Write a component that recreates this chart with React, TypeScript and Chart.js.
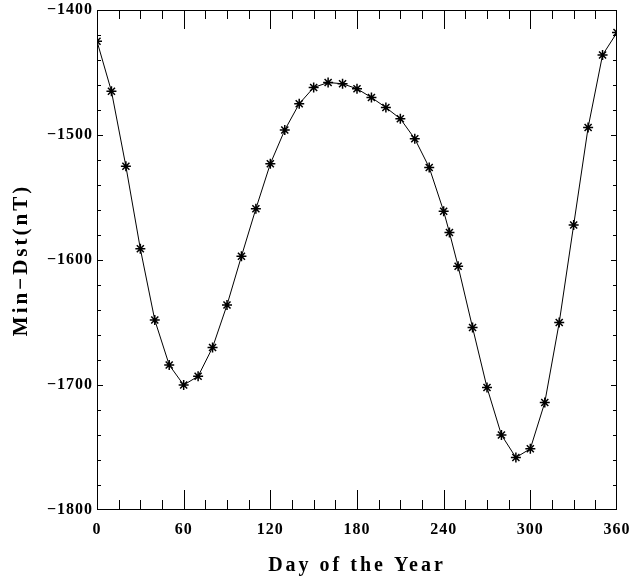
import React, { useEffect, useRef } from "react";
import { Chart, registerables } from "chart.js";

Chart.register(...registerables);

// ---- data ----
const days = [
  0, 10, 20, 30, 40, 50, 60, 70, 80, 90, 100, 110, 120, 130, 140, 150, 160, 170,
  180, 190, 200, 210, 220, 230, 240, 244, 250, 260, 270, 280, 290, 300, 310, 320,
  330, 340, 350, 360,
];
const minDst = [
  -1425, -1465, -1525, -1591, -1648, -1684, -1700, -1693, -1670, -1636, -1597,
  -1559, -1523, -1496, -1475, -1462, -1458, -1459, -1463, -1470, -1478, -1487,
  -1503, -1526, -1561, -1578, -1605, -1654, -1702, -1740, -1758, -1751, -1714,
  -1650, -1572, -1494, -1436, -1418,
];
const xMin = 0;
const xMax = 360;
const xMajorStep = 60;
const xMinorStep = 15;
const yMin = -1800;
const yMax = -1400;
const yMajorStep = 100;
const yMinorStep = 20;
const xTitle = "Day of the Year";
const yTitle = "Min\u2212Dst(nT)";

const W = 634;
const H = 576;

const fmt = (v: number) => (v < 0 ? "\u2212" + Math.abs(v) : String(v));

const framePlugin = {
  id: "idlFrame",
  beforeDraw(chart: any) {
    chart.ctx.letterSpacing = "3px";
  },
  afterDatasetsDraw(chart: any) {
    chart.ctx.letterSpacing = "1px";
  },
  afterDraw(chart: any) {
    const ctx: CanvasRenderingContext2D = chart.ctx;
    ctx.letterSpacing = "0px";
    const area = chart.chartArea;
    const xs = chart.scales.x;
    const ys = chart.scales.y;
    const L = Math.round(area.left);
    const R = Math.round(area.right) - 1;
    const T = Math.round(area.top);
    const B = Math.round(area.bottom) - 1;
    ctx.save();
    ctx.fillStyle = "#000";
    // frame
    ctx.fillRect(L, T, R - L + 1, 1);
    ctx.fillRect(L, B, R - L + 1, 1);
    ctx.fillRect(L, T, 1, B - T + 1);
    ctx.fillRect(R, T, 1, B - T + 1);
    // x ticks on bottom and top, pointing inward
    for (let d = xMin; d <= xMax; d += xMinorStep) {
      const px = Math.min(R, Math.round(xs.getPixelForValue(d)));
      const len = d % xMajorStep === 0 ? 19 : 9;
      ctx.fillRect(px, B - len, 1, len);
      ctx.fillRect(px, T, 1, len);
    }
    // y ticks on left and right, pointing inward
    for (let v = yMin; v <= yMax; v += yMinorStep) {
      const py = Math.min(B, Math.round(ys.getPixelForValue(v)));
      const len = v % yMajorStep === 0 ? 6 : 4;
      ctx.fillRect(L, py, len, 1);
      ctx.fillRect(R - len + 1, py, len, 1);
    }
    ctx.restore();
  },
};

export default function App() {
  const ref = useRef<HTMLCanvasElement | null>(null);
  useEffect(() => {
    if (!ref.current) return;
    const chart = new Chart(ref.current, {
      type: "line",
      data: {
        datasets: [
          {
            data: days.map((d, i) => ({ x: d, y: minDst[i] })),
            borderColor: "#000",
            borderWidth: 1,
            tension: 0,
            fill: false,
            pointStyle: "star",
            pointRadius: 5,
            pointBorderWidth: 1.5,
            pointBorderColor: "#000",
            pointBackgroundColor: "#000",
          },
        ],
      },
      options: {
        responsive: false,
        animation: false,
        devicePixelRatio: 1,
        layout: { padding: { top: 10, right: 17, left: 0, bottom: 0 } },
        plugins: {
          legend: { display: false },
          tooltip: { enabled: false },
        },
        scales: {
          x: {
            type: "linear",
            min: xMin,
            max: xMax,
            grid: { display: false, drawTicks: false },
            border: { display: false },
            ticks: {
              stepSize: xMajorStep,
              color: "#000",
              padding: 10,
              maxRotation: 0,
              z: 1,
              font: { family: "Liberation Serif", size: 16, weight: "bold" },
              callback: (v: any) => fmt(Number(v)),
            },
            title: {
              display: true,
              text: xTitle,
              color: "#000",
              padding: { top: 0, bottom: -2 },
              font: { family: "Liberation Serif", size: 20, weight: "bold" },
            },
            afterFit: (s: any) => {
              s.height = 66;
              s.paddingLeft = 0;
              s.paddingRight = 0;
            },
          },
          y: {
            min: yMin,
            max: yMax,
            grid: { display: false, drawTicks: false },
            border: { display: false },
            ticks: {
              stepSize: yMajorStep,
              color: "#000",
              padding: 4,
              z: 1,
              font: { family: "Liberation Serif", size: 16, weight: "bold" },
              callback: (v: any) => fmt(Number(v)),
            },
            title: {
              display: true,
              text: yTitle,
              color: "#000",
              padding: { top: 9, bottom: 0 },
              font: { family: "Liberation Serif", size: 21, weight: "bold" },
            },
            afterFit: (s: any) => {
              s.width = 97;
              s.paddingTop = 0;
              s.paddingBottom = 0;
            },
          },
        },
      },
      plugins: [framePlugin],
    });
    return () => chart.destroy();
  }, []);
  return (
    <div style={{ position: "absolute", left: 0, top: 0, width: W, height: H, background: "#fff" }}>
      <canvas ref={ref} width={W} height={H} style={{ display: "block" }} />
    </div>
  );
}
